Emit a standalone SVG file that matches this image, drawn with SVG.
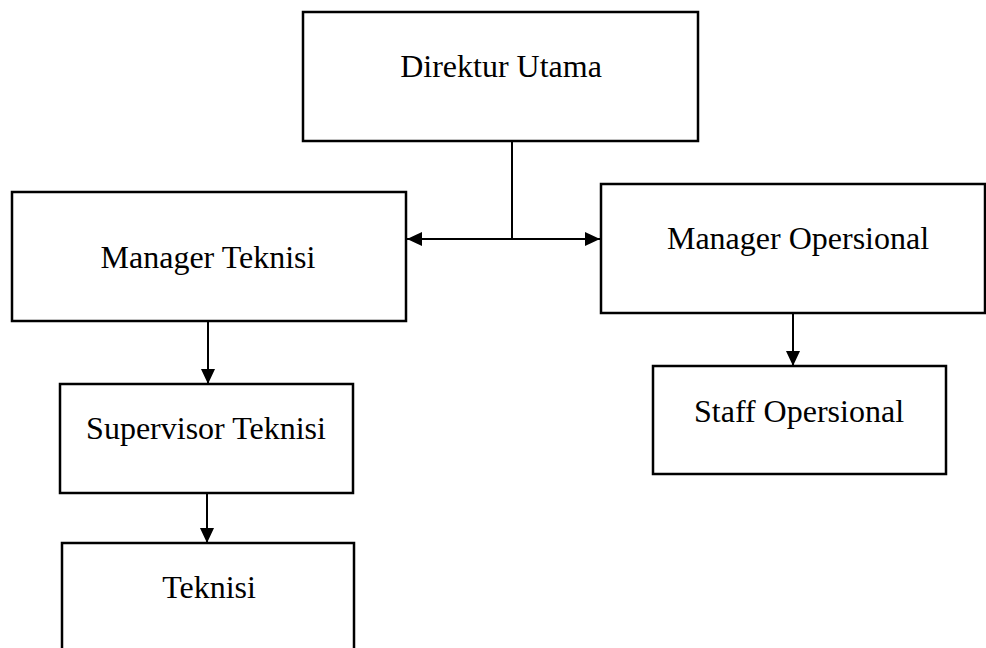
<svg xmlns="http://www.w3.org/2000/svg" width="986" height="648" viewBox="0 0 986 648">
<defs>
<style>
.box{fill:#fff;stroke:#000;stroke-width:2.5}
.lbl{font-family:"Liberation Serif","Times New Roman",serif;font-size:32px;fill:#000;text-anchor:middle}
.con{fill:none;stroke:#000;stroke-width:2}
</style>
<marker id="ah" viewBox="0 0 15 14" refX="15" refY="7" markerWidth="15" markerHeight="14" markerUnits="userSpaceOnUse" orient="auto-start-reverse">
<path d="M0,0 L15,7 L0,14 Z" fill="#000"/>
</marker>
</defs>
<rect width="986" height="648" fill="#fff"/>
<g id="direktur">
<rect class="box" x="303" y="12" width="395" height="129"/>
<text class="lbl" x="501" y="77">Direktur Utama</text>
</g>
<g id="manager-teknisi">
<rect class="box" x="12" y="192" width="394" height="129"/>
<text class="lbl" x="208" y="268">Manager Teknisi</text>
</g>
<g id="manager-opersional">
<rect class="box" x="601" y="184" width="384" height="129"/>
<text class="lbl" x="798" y="249">Manager Opersional</text>
</g>
<g id="staff-opersional">
<rect class="box" x="653" y="366" width="293" height="108"/>
<text class="lbl" x="799" y="422">Staff Opersional</text>
</g>
<g id="supervisor-teknisi">
<rect class="box" x="60" y="384" width="293" height="109"/>
<text class="lbl" x="206" y="439">Supervisor Teknisi</text>
</g>
<g id="teknisi">
<rect class="box" x="62" y="543" width="292" height="130"/>
<text class="lbl" x="209" y="598">Teknisi</text>
</g>
<g id="connectors">
<line class="con" x1="512" y1="141" x2="512" y2="239"/>
<line class="con" x1="407" y1="239" x2="600" y2="239" marker-start="url(#ah)" marker-end="url(#ah)"/>
<line class="con" x1="208" y1="321" x2="208" y2="384" marker-end="url(#ah)"/>
<line class="con" x1="207" y1="493" x2="207" y2="543" marker-end="url(#ah)"/>
<line class="con" x1="793" y1="313" x2="793" y2="366" marker-end="url(#ah)"/>
</g>
</svg>
